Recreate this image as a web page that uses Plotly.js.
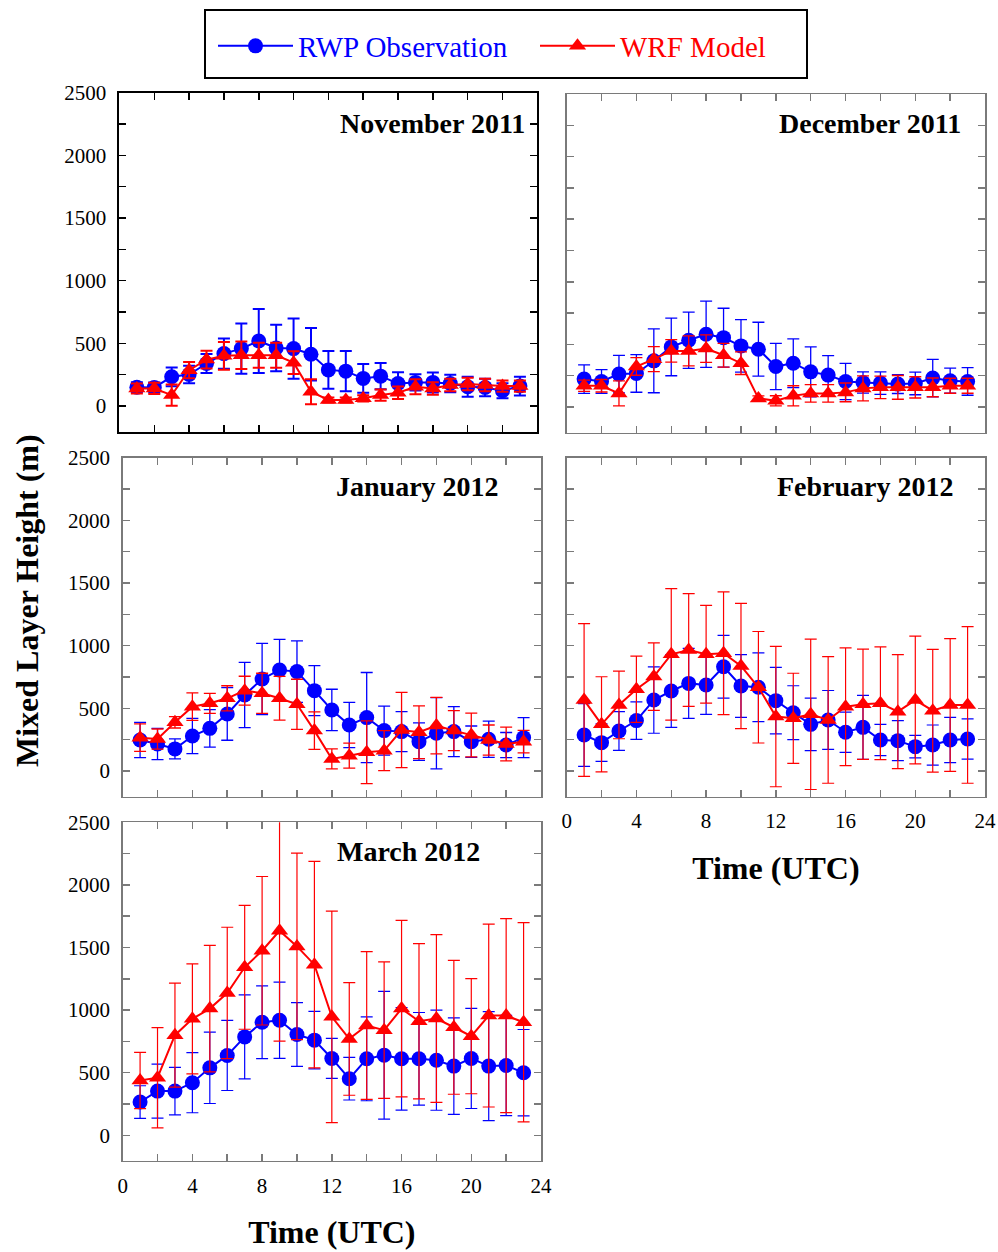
<!DOCTYPE html>
<html>
<head>
<meta charset="utf-8">
<script src="https://cdn.plot.ly/plotly-3.0.1.min.js"></script>
<style>
  html, body { margin: 0; padding: 0; background: #ffffff; }
  #chart { width: 998px; height: 1252px; }
</style>
</head>
<body>
<div id="chart"></div>
<script>
// Hour of day (UTC)
const hours = [1,2,3,4,5,6,7,8,9,10,11,12,13,14,15,16,17,18,19,20,21,22,23];

const monthLabels = ['November 2011', 'December 2011', 'January 2012', 'February 2012', 'March 2012'];
const seriesNames = ['RWP Observation', 'WRF Model'];

// Mean mixed layer height (m) and standard deviation per hour
const novObs    = [150,148,233,251,339,418,458,519,463,458,413,288,278,220,238,180,188,188,180,153,148,122,159];
const novObsErr = [40,40,75,70,75,120,200,255,185,240,210,150,160,115,105,90,65,80,70,80,70,60,75];
const novWrf    = [140,140,87,286,370,400,405,405,405,346,114,48,48,61,87,106,153,140,167,175,167,159,159];
const novWrfErr = [40,45,85,65,70,110,110,100,100,90,100,20,20,25,45,50,60,50,50,50,50,45,45];

const decObs    = [223,204,263,268,369,480,533,581,554,488,462,324,350,281,255,204,196,191,183,188,231,210,204];
const decObsErr = [114,95,150,150,255,230,225,265,235,210,215,185,195,200,155,145,85,90,75,90,150,100,110];
const decWrf    = [170,170,109,324,382,448,448,467,414,350,69,50,90,109,109,117,149,157,157,157,157,170,170];
const decWrfErr = [45,50,100,70,100,90,120,110,95,90,20,40,80,70,70,75,100,90,95,85,75,60,60];

const janObs    = [247,215,176,279,340,455,606,734,806,793,641,487,367,426,322,314,234,301,314,234,253,207,266];
const janObsErr = [140,125,80,140,150,210,260,285,245,245,200,165,180,360,195,160,150,285,200,125,145,100,160];
const janWrf    = [266,255,388,513,540,580,641,620,580,532,322,96,122,149,162,327,309,362,322,287,247,215,234];
const janWrfErr = [110,80,45,110,80,100,115,160,175,200,150,80,100,250,160,300,210,225,160,175,120,135,90];

const febObs    = [287,226,319,402,566,638,699,686,832,678,668,561,465,372,407,309,348,247,242,194,207,247,255];
const febObsErr = [250,150,155,150,265,290,280,235,250,250,275,265,215,210,235,160,255,125,160,90,160,180,160];
const febWrf    = [566,372,527,652,753,931,965,931,939,838,668,434,420,452,407,513,532,540,473,566,481,527,527];
const febWrfErr = [610,380,270,265,270,525,450,390,490,500,445,560,360,600,505,470,440,450,455,510,490,530,625];

const marObs    = [266,353,353,420,539,638,786,903,919,805,760,614,452,611,640,611,611,600,553,614,553,558,500];
const marObsErr = [130,215,190,240,285,280,335,290,305,255,230,160,170,335,510,410,370,400,385,400,435,400,345];
const marWrf    = [438,460,800,930,1012,1137,1342,1474,1634,1509,1363,946,770,877,840,1012,911,933,863,792,956,956,903];
const marWrfErr = [225,400,415,440,505,525,495,593,882,745,825,845,450,590,545,705,620,670,535,460,730,775,795];

// Axis ticks
const yTickVals = [0,250,500,750,1000,1250,1500,1750,2000,2250,2500];
const yTickText = ['0','','500','','1000','','1500','','2000','','2500'];
const xTickVals = [0,2,4,6,8,10,12,14,16,18,20,22,24];
const xTickText = ['0','','4','','8','','12','','16','','20','','24'];

const BLUE = '#0000FF';
const RED = '#FF0000';
const FONT = 'Liberation Serif, Times New Roman, serif';

// Panel layout: axis suffix, domains, styling
const panels = [
  { obs: novObs, obsErr: novObsErr, wrf: novWrf, wrfErr: novWrfErr, ax: '',  xd: [0.1197, 0.5384], yd: [0.6552, 0.9260], frame: '#000000', fw: 2,   bar: 2,   xl: false, yl: true,  tx: 527, ty: 124 },
  { obs: decObs, obsErr: decObsErr, wrf: decWrf, wrfErr: decWrfErr, ax: '2', xd: [0.5678, 0.9870], yd: [0.6544, 0.9249], frame: '#7a7a7a', fw: 1.5, bar: 1.3, xl: false, yl: false, tx: 963, ty: 124 },
  { obs: janObs, obsErr: janObsErr, wrf: janWrf, wrfErr: janWrfErr, ax: '3', xd: [0.1229, 0.5421], yd: [0.3637, 0.6344], frame: '#7a7a7a', fw: 1.5, bar: 1.3, xl: false, yl: true,  tx: 501, ty: 486 },
  { obs: febObs, obsErr: febObsErr, wrf: febWrf, wrfErr: febWrfErr, ax: '4', xd: [0.5678, 0.9870], yd: [0.3637, 0.6344], frame: '#7a7a7a', fw: 1.5, bar: 1.2, xl: true,  yl: false, tx: 956, ty: 486 },
  { obs: marObs, obsErr: marObsErr, wrf: marWrf, wrfErr: marWrfErr, ax: '5', xd: [0.1229, 0.5421], yd: [0.0727, 0.3432], frame: '#7a7a7a', fw: 1.5, bar: 1.2, xl: true,  yl: true,  tx: 482, ty: 851 }
];

const W = 998, H = 1252;

// One legend per series so each entry's text takes its series colour
function legendBox(xPx, color) {
  return {
    orientation: 'h',
    x: xPx / W, xanchor: 'left',
    y: 1 - 46 / H, yanchor: 'middle',
    borderwidth: 0,
    bgcolor: 'rgba(0,0,0,0)',
    font: { family: FONT, size: 29, color: color },
    itemwidth: 75
  };
}

const traces = [];
const layout = {
  width: W, height: H,
  margin: { l: 0, r: 0, t: 0, b: 0 },
  paper_bgcolor: '#ffffff',
  plot_bgcolor: '#ffffff',
  font: { family: FONT, color: '#000000', size: 21 },
  showlegend: true,
  legend: legendBox(213, BLUE),
  legend2: legendBox(535, RED),
  annotations: [],
  // Frame around the legend
  shapes: [{
    type: 'rect', xref: 'paper', yref: 'paper',
    x0: 205 / W, x1: 807 / W, y0: 1 - 78 / H, y1: 1 - 10 / H,
    line: { color: '#000000', width: 2 }, fillcolor: 'rgba(0,0,0,0)'
  }]
};

panels.forEach((p, i) => {
  const xa = 'x' + p.ax, ya = 'y' + p.ax;
  traces.push({
    type: 'scatter', mode: 'lines+markers', x: hours, y: p.obs,
    xaxis: xa, yaxis: ya,
    name: seriesNames[0], legend: 'legend',
    showlegend: i === 0,
    line: { color: BLUE, width: 2 },
    marker: { symbol: 'circle', size: 15, color: BLUE },
    error_y: { type: 'data', array: p.obsErr, visible: true, color: BLUE, thickness: p.bar, width: 6 }
  });
  traces.push({
    type: 'scatter', mode: 'lines+markers', x: hours, y: p.wrf,
    xaxis: xa, yaxis: ya,
    name: seriesNames[1], legend: 'legend2',
    showlegend: i === 0,
    line: { color: RED, width: 2 },
    marker: { symbol: 'triangle-up', size: 15, color: RED },
    error_y: { type: 'data', array: p.wrfErr, visible: true, color: RED, thickness: p.bar, width: 6 }
  });

  const xKey = 'xaxis' + p.ax, yKey = 'yaxis' + p.ax;
  layout[xKey] = {
    domain: p.xd, anchor: ya, range: [0, 24],
    tickmode: 'array', tickvals: xTickVals, ticktext: xTickText,
    ticks: 'inside', ticklen: 7, tickwidth: 1.5, tickcolor: p.frame,
    showline: true, linecolor: p.frame, linewidth: p.fw, mirror: 'ticks',
    showgrid: false, zeroline: false,
    showticklabels: p.xl, ticklabelstandoff: 5,
    tickfont: { family: FONT, size: 21, color: '#000000' }
  };
  if (p.xl) {
    layout[xKey].title = { text: '<b>Time (UTC)</b>', font: { family: FONT, size: 32 }, standoff: 24 };
  }
  layout[yKey] = {
    domain: p.yd, anchor: xa, range: [-205, 2500],
    tickmode: 'array', tickvals: yTickVals, ticktext: yTickText,
    ticks: 'inside', ticklen: 7, tickwidth: 1.5, tickcolor: p.frame,
    showline: true, linecolor: p.frame, linewidth: p.fw, mirror: 'ticks',
    showgrid: false, zeroline: false,
    showticklabels: p.yl, ticklabelstandoff: 7,
    tickfont: { family: FONT, size: 21, color: '#000000' }
  };

  layout.annotations.push({
    xref: 'paper', yref: 'paper', x: p.tx / W, y: 1 - p.ty / H,
    xanchor: 'right', yanchor: 'middle', showarrow: false,
    text: '<b>' + monthLabels[i] + '</b>',
    font: { family: FONT, size: 28, color: '#000000' }
  });
});

// Shared y-axis title
layout.annotations.push({
  xref: 'paper', yref: 'paper', x: 27 / W, y: 1 - 601 / H,
  xanchor: 'center', yanchor: 'middle', showarrow: false, textangle: -90,
  text: '<b>Mixed Layer Height (m)</b>',
  font: { family: FONT, size: 32, color: '#000000' }
});

Plotly.newPlot('chart', traces, layout, { staticPlot: true, displayModeBar: false });
</script>
</body>
</html>
